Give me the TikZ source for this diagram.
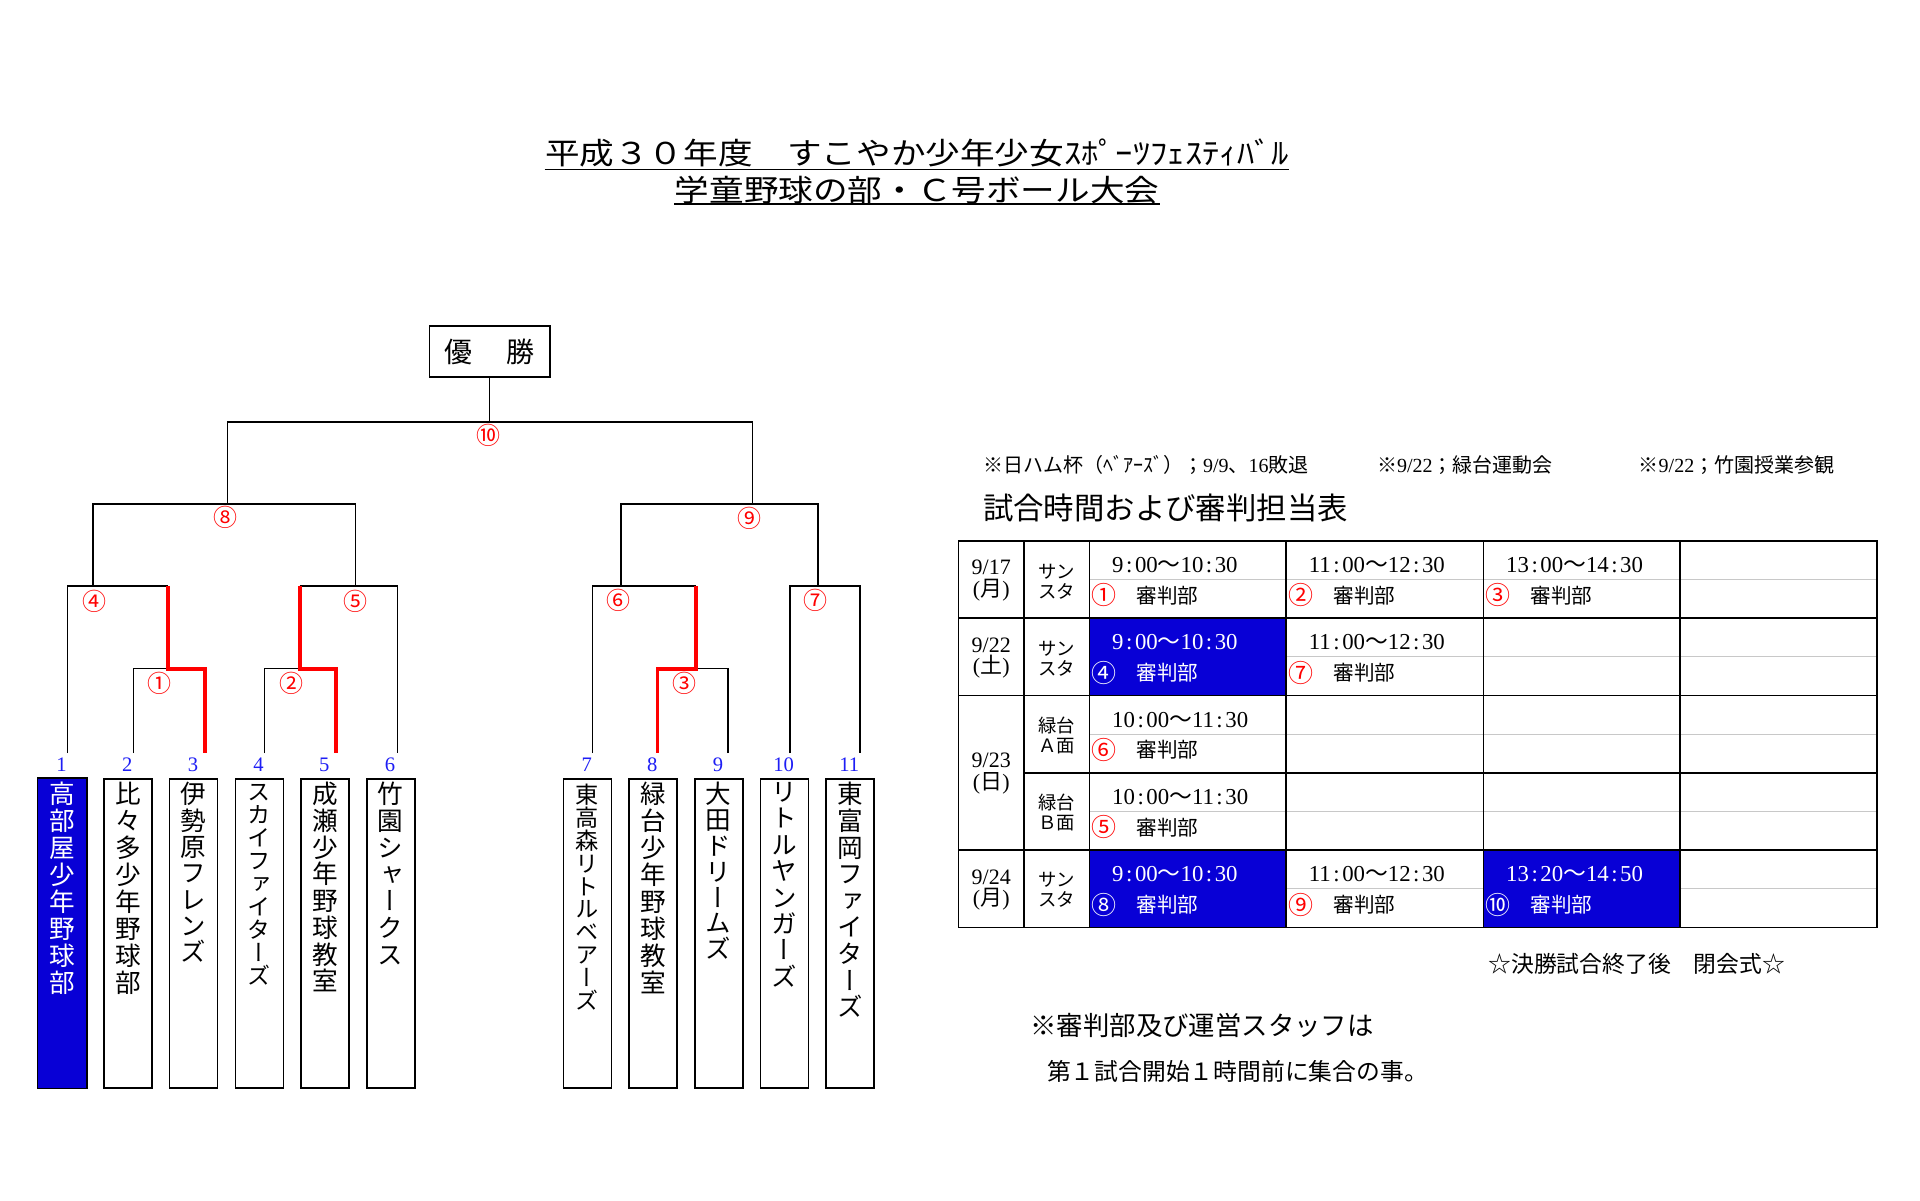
\documentclass[tikz,border=0pt]{standalone}
\usepackage{fontspec}
\setmainfont{Liberation Serif}
\newfontfamily\jp{Noto Sans CJK JP}
\newfontfamily\jpv[RawFeature=+vert]{Noto Sans CJK JP}
\definecolor{cellblue}{RGB}{8,0,214}
\definecolor{numblue}{RGB}{30,30,245}
\definecolor{mred}{RGB}{255,0,0}
\definecolor{lgray}{RGB}{200,200,200}
\newcommand{\cl}{\makebox[0.5em]{:}}
\newcommand{\tld}{{\jp ～}}
\newcommand{\slotcell}[7]{%
  \node[timetx,text=#6] (#1t) at ({#2+22.5},{#3+24.5}) {#4};
  \node[tcirc,text=#7] (#1c) at ({#2+15},{#3+54.5}) {#5};
  \node[refe,text=#6] (#1r) at ({#2+47},{#3+54.5}) {審判部};
}
\def\cA{958.5}\def\cB{1024}\def\cC{1089.3}\def\cD{1286}\def\cE{1483.3}\def\cF{1680}\def\cG{1877}
\def\rA{540.7}\def\rB{618}\def\rC{695.3}\def\rD{772.7}\def\rE{850}\def\rF{927.5}
\begin{document}
\begin{tikzpicture}[x=0.5pt,y=-0.5pt,
  bline/.style={line width=0.65pt,draw=black},
  rline/.style={line width=1.8pt,draw=mred,line join=miter},
  tline/.style={line width=0.8pt,draw=black},
  gline/.style={line width=0.5pt,draw=lgray},
  uline/.style={line width=0.9pt,draw=black},
  circ/.style={font=\jp\fontsize{12pt}{12pt}\selectfont,text=mred,inner sep=0pt},
  tnum/.style={font=\fontsize{10.3pt}{11pt}\selectfont,text=numblue,inner sep=0pt},
  teambox/.style={draw=black,line width=0.75pt,minimum width=24pt,minimum height=154.5pt,inner sep=0pt,anchor=north west},
  tname/.style={font={\jpv\fontsize{12.8pt}{#1pt}\selectfont\lineskiplimit=-30pt},align=center,inner sep=0pt,anchor=north},
  tnames/.style={font={\jpv\fontsize{11.6pt}{#1pt}\selectfont\lineskiplimit=-30pt},align=center,inner sep=0pt,anchor=north},
  ttl/.style={font=\jp\fontsize{17.3pt}{18pt}\selectfont,inner sep=0pt},
  champbox/.style={draw=black,line width=0.8pt,minimum width=60.3pt,minimum height=25.35pt,inner sep=0pt,font=\jp\fontsize{14pt}{15pt}\selectfont},
  note/.style={font=\fontsize{10pt}{11pt}\selectfont,inner sep=0pt,anchor=west},
  timetx/.style={font=\fontsize{11.4pt}{12pt}\selectfont,inner sep=0pt,anchor=west},
  refe/.style={font=\jp\fontsize{10.3pt}{11pt}\selectfont,inner sep=0pt,anchor=west},
  tcirc/.style={font=\jp\fontsize{12.5pt}{13pt}\selectfont,inner sep=0pt},
  dtx/.style={font=\fontsize{11pt}{10.85pt}\selectfont,align=center,inner sep=0pt},
  vtx/.style={font=\jp\fontsize{9.2pt}{10pt}\selectfont,align=center,inner sep=0pt}
]
\useasboundingbox (0,0) rectangle (1920,1200);
\fill[white] (0,0) rectangle (1920,1200);

% ---------- title ----------
\node[ttl] (title1) at (917,153) {\scalebox{1}[0.87]{平成３０年度　すこやか少年少女ｽﾎﾟｰﾂﾌｪｽﾃｨﾊﾞﾙ}};
\node[ttl] (title2) at (917,190.5) {\scalebox{1}[0.87]{学童野球の部・Ｃ号ボール大会}};
\coordinate (ul1) at (0,169.5);
\coordinate (ul2) at (0,204);
\draw[uline] (title1.west |- ul1) -- (title1.east |- ul1);
\draw[uline] (title2.west |- ul2) -- (title2.east |- ul2);

% ---------- champion ----------
\node[champbox] (champ) at (489.7,351.4) {優\hspace{17.2pt}勝};

% ---------- team boxes ----------
\foreach \i/\x in {1/37.5,2/103.2,3/168.9,4/234.6,5/300.3,6/366.0,7/562.7,8/628.3,9/694.0,10/759.6,11/825.3}{
  \node[teambox] (T\i) at (\x,778) {};
  \node[tnum] (K\i) at ({\x+24},765) {\i};
}
\fill[cellblue] (T1.south west) rectangle (T1.north east);
\draw[line width=0.75pt] (T1.south west) rectangle (T1.north east);

\node[tname=13.45,text=white] (N1) at ([yshift=-2pt]T1.north) {高\\部\\屋\\少\\年\\野\\球\\部};
\node[tname=13.45] (N2) at ([yshift=-2pt]T2.north) {比\\々\\多\\少\\年\\野\\球\\部};
\node[tname=13.15] (N3) at ([yshift=-2pt]T3.north) {伊\\勢\\原\\フ\\レ\\ン\\ズ};
\node[tnames=11.5] (N4) at ([yshift=-3pt]T4.north) {ス\\カ\\イ\\フ\\ァ\\イ\\タ\\ー\\ズ};
\node[tname=13.35] (N5) at ([yshift=-2pt]T5.north) {成\\瀬\\少\\年\\野\\球\\教\\室};
\node[tname=13.35] (N6) at ([yshift=-2pt]T6.north) {竹\\園\\シ\\ャ\\ー\\ク\\ス};
\node[tnames=11.4] (N7) at ([yshift=-3pt]T7.north) {東\\高\\森\\リ\\ト\\ル\\ベ\\ア\\ー\\ズ};
\node[tname=13.45] (N8) at ([yshift=-2pt]T8.north) {緑\\台\\少\\年\\野\\球\\教\\室};
\node[tname=12.9] (N9) at ([yshift=-2pt]T9.north) {大\\田\\ド\\リ\\ー\\ム\\ズ};
\node[tname=13.2] (N10) at ([yshift=-2pt]T10.north) {リ\\ト\\ル\\ヤ\\ン\\ガ\\ー\\ズ};
\node[tname=13.3] (N11) at ([yshift=-2pt]T11.north) {東\\富\\岡\\フ\\ァ\\イ\\タ\\ー\\ズ};

% ---------- bracket coordinates ----------
\coordinate (p1) at (67.7,753);
\coordinate (p2) at (133.2,753);
\coordinate (p3) at (205,753);
\coordinate (p4) at (264.6,753);
\coordinate (p5) at (335.8,753);
\coordinate (p6) at (397.2,753);
\coordinate (p7) at (592.4,753);
\coordinate (p8) at (657.3,753);
\coordinate (p9) at (727.9,753);
\coordinate (p10) at (789.9,753);
\coordinate (p11) at (860,753);
\coordinate (j1) at (168.2,668.7);
\coordinate (j2) at (299.7,668.7);
\coordinate (j3) at (695.8,668.7);
\coordinate (j4) at (168.2,586);
\coordinate (j5) at (299.7,586);
\coordinate (j6) at (695.8,586);
\coordinate (s4) at (93,586);
\coordinate (s5) at (355.3,586);
\coordinate (s6) at (621.1,586);
\coordinate (s7) at (818,586);
\coordinate (s8) at (227.3,504);
\coordinate (s9) at (752.6,504);
\coordinate (Ftop) at (489.7,422);

% black lines
\draw[bline] (champ.south) -- (Ftop);
\draw[bline] (s8) |- (Ftop) -| (s9);
\draw[bline] (s4) |- (s8) -| (s5);
\draw[bline] (s6) |- (s9) -| (s7);
\draw[bline] (p1) |- (s4) -- (j4);
\draw[bline] (p2) |- (j1);
\draw[bline] (j5) -- (s5) -| (p6);
\draw[bline] (p4) |- (j2);
\draw[bline] (p7) |- (s6) -- (j6);
\draw[bline] (p9) |- (j3);
\draw[bline] (p10) |- (s7) -| (p11);
% red winner lines
\draw[rline] (j4) -- (j1) -| (p3);
\draw[rline] (j5) -- (j2) -| (p5);
\draw[rline] (j6) -- (j3) -| (p8);

% match labels
\node[circ] (m10) at (488,435) {⑩};
\node[circ] (m8) at (225,517.3) {⑧};
\node[circ] (m9) at (749.7,518.3) {⑨};
\node[circ] (m4) at (94.7,601.7) {④};
\node[circ] (m5) at (355.9,601.7) {⑤};
\node[circ] (m6) at (618.8,600) {⑥};
\node[circ] (m7) at (815.2,600.7) {⑦};
\node[circ] (m1) at (159.6,683.3) {①};
\node[circ] (m2) at (291,683.3) {②};
\node[circ] (m3) at (684.3,683.3) {③};

% ---------- notes ----------
\node[note] (n1) at (982.7,465) {{\jp ※日ハム杯（ﾍﾞｱｰｽﾞ）；}9/9{\jp 、}16{\jp 敗退}};
\node[note] (n2) at (1376.7,465) {{\jp ※}9/22{\jp ；緑台運動会}};
\node[note] (n3) at (1638.3,465) {{\jp ※}9/22{\jp ；竹園授業参観}};
\node[note,font=\jp\fontsize{15.2pt}{16pt}\selectfont] (head) at (982.7,508) {試合時間および審判担当表};

% ---------- table ----------
\foreach \ry in {579.3,656.7,734.0,811.4,888.8}{
  \draw[gline] (\cC,\ry) -- (\cG,\ry);
}
\fill[cellblue] (\cC,\rB) rectangle (\cD,\rC);
\fill[cellblue] (\cC,\rE) rectangle (\cD,\rF);
\fill[cellblue] (\cE,\rE) rectangle (\cF,\rF);
\draw[tline] (\cA,\rA) rectangle (\cG,\rF);
\foreach \cx in {\cB,\cC,\cD,\cE,\cF}{
  \draw[tline] (\cx,\rA) -- (\cx,\rF);
}
\foreach \ry in {\rB,\rC,\rE}{
  \draw[tline] (\cA,\ry) -- (\cG,\ry);
}
\draw[tline] (\cB,\rD) -- (\cG,\rD);

% dates
\node[dtx] (d1) at (991.25,580.7) {9/17\\({\jp 月})};
\node[dtx] (d2) at (991.25,658) {9/22\\({\jp 土})};
\node[dtx] (d3) at (991.25,773.5) {9/23\\({\jp 日})};
\node[dtx] (d4) at (991.25,890) {9/24\\({\jp 月})};
% venues
\node[vtx] (v1) at (1056.65,581.7) {サン\\スタ};
\node[vtx] (v2) at (1056.65,659) {サン\\スタ};
\node[vtx] (v3) at (1056.65,735) {緑台\\Ａ面};
\node[vtx] (v4) at (1056.65,812.4) {緑台\\Ｂ面};
\node[vtx] (v5) at (1056.65,890) {サン\\スタ};

% slots
\slotcell{a1}{\cC}{\rA}{9\cl00\tld10\cl30}{①}{black}{mred}
\slotcell{a2}{\cD}{\rA}{11\cl00\tld12\cl30}{②}{black}{mred}
\slotcell{a3}{\cE}{\rA}{13\cl00\tld14\cl30}{③}{black}{mred}
\slotcell{b1}{\cC}{\rB}{9\cl00\tld10\cl30}{④}{white}{white}
\slotcell{b2}{\cD}{\rB}{11\cl00\tld12\cl30}{⑦}{black}{mred}
\slotcell{c1}{\cC}{\rC}{10\cl00\tld11\cl30}{⑥}{black}{mred}
\slotcell{e1}{\cC}{\rD}{10\cl00\tld11\cl30}{⑤}{black}{mred}
\slotcell{f1}{\cC}{\rE}{9\cl00\tld10\cl30}{⑧}{white}{white}
\slotcell{f2}{\cD}{\rE}{11\cl00\tld12\cl30}{⑨}{black}{mred}
\slotcell{f3}{\cE}{\rE}{13\cl20\tld14\cl50}{⑩}{white}{white}

% ---------- bottom notes ----------
\node[note,font=\jp\fontsize{11.4pt}{12pt}\selectfont] (close) at (1488,963.7) {☆決勝試合終了後　閉会式☆};
\node[note,font=\jp\fontsize{13.2pt}{14pt}\selectfont] (staff1) at (1030,1025) {※審判部及び運営スタッフは};
\node[note,font=\jp\fontsize{11.9pt}{12pt}\selectfont] (staff2) at (1046.7,1071.7) {第１試合開始１時間前に集合の事。};
\end{tikzpicture}
\end{document}
